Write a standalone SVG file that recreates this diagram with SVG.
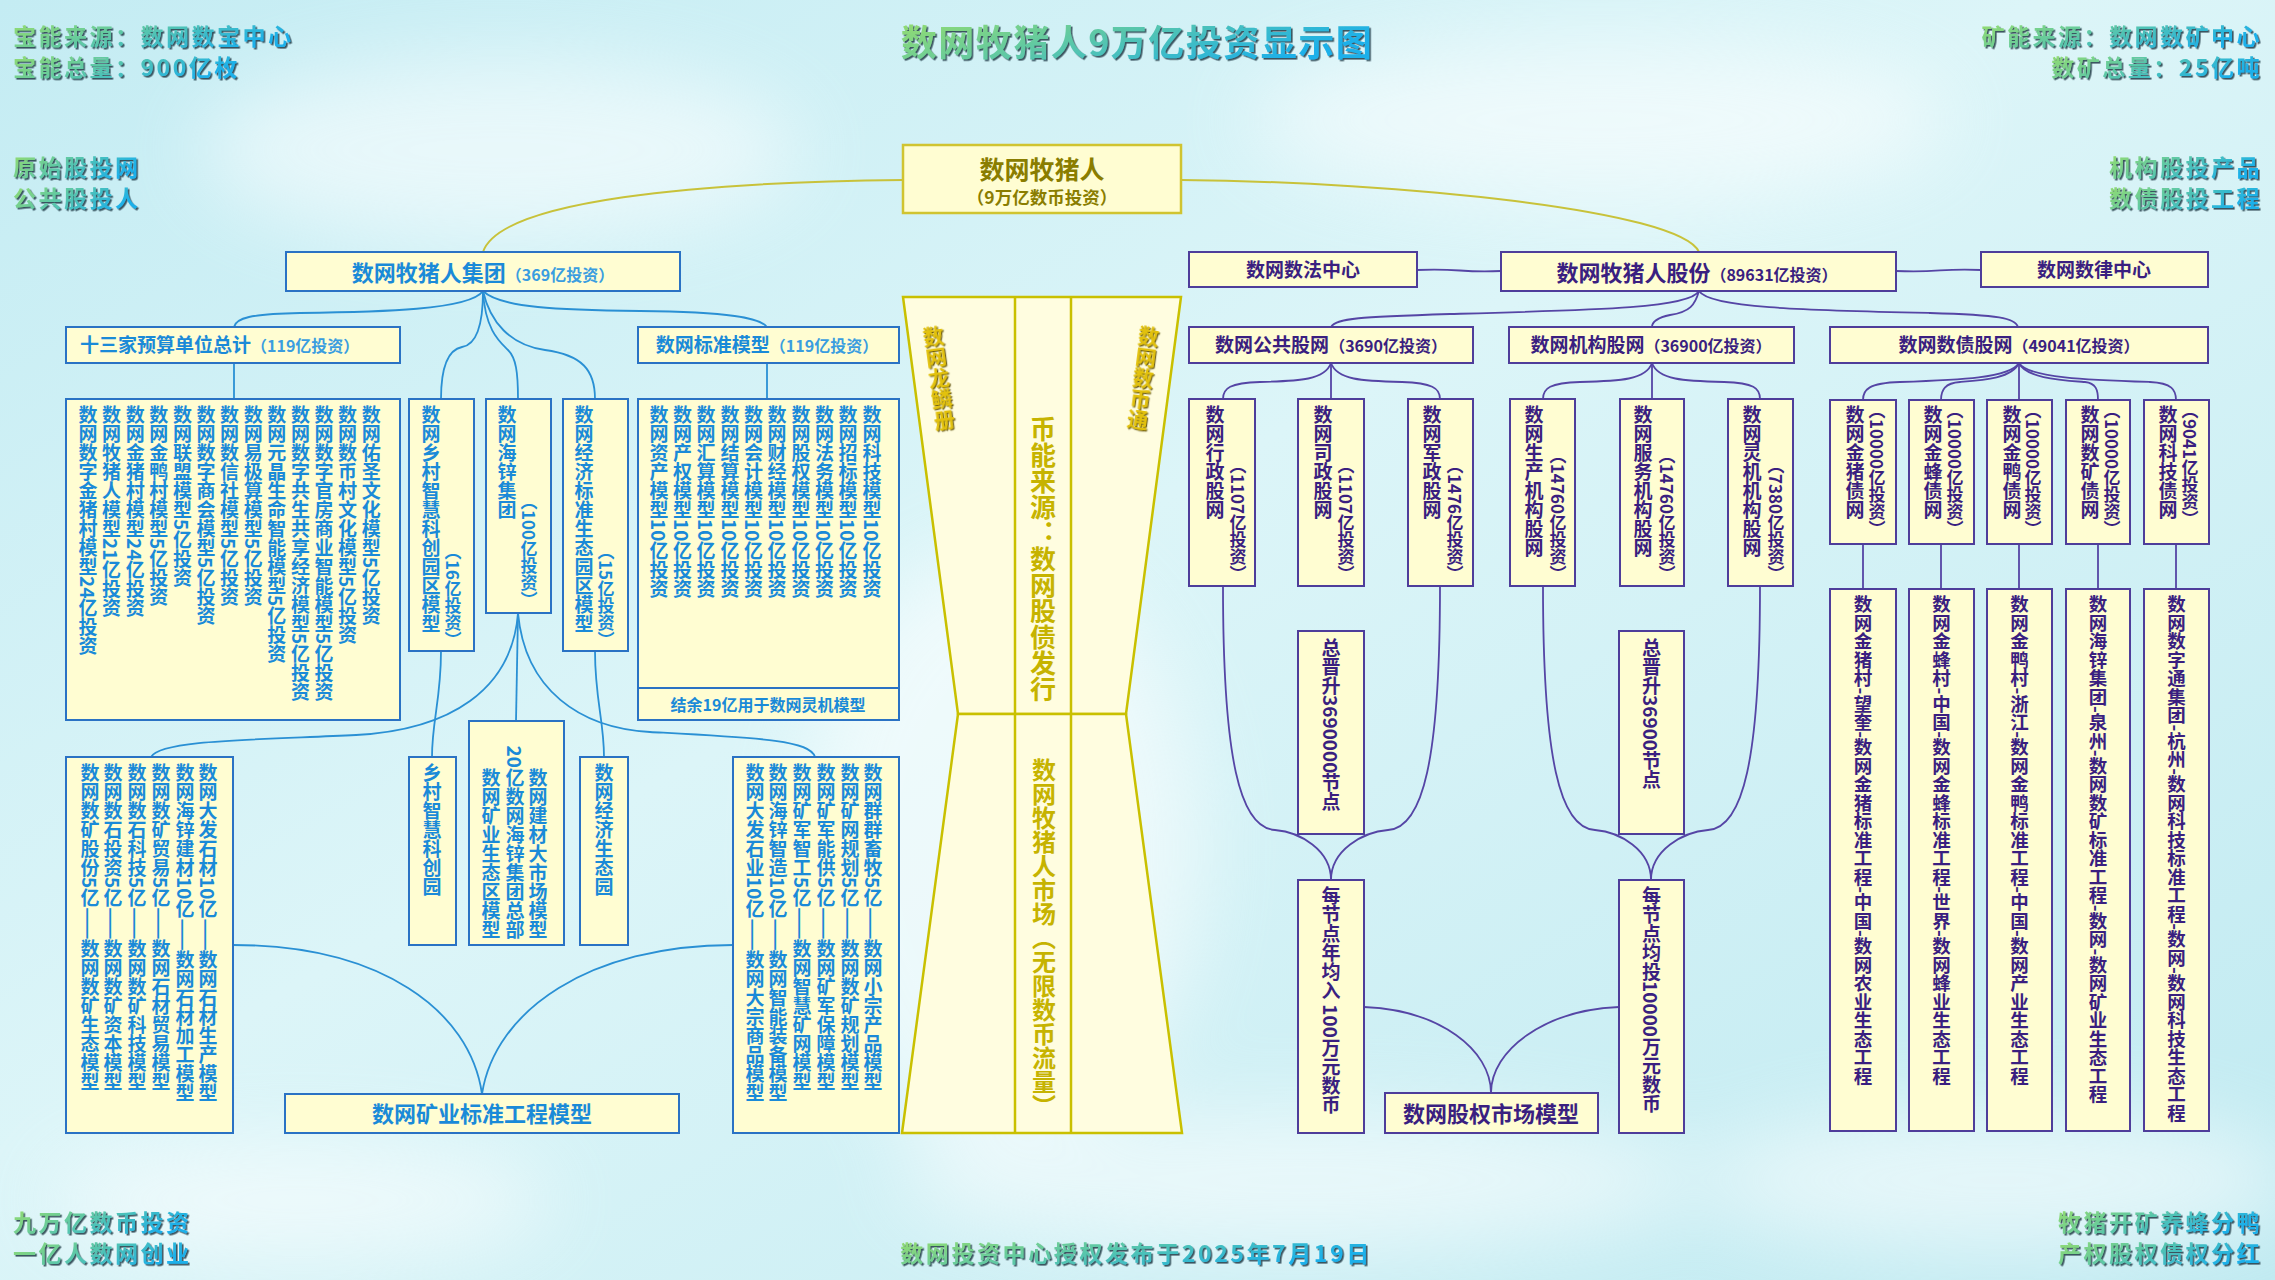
<svg xmlns="http://www.w3.org/2000/svg" width="2275" height="1280" viewBox="0 0 2275 1280">
<defs>
<linearGradient id="bg" x1="0" y1="0" x2="1" y2="1">
<stop offset="0" stop-color="#c4ecf3"/>
<stop offset="0.45" stop-color="#dcf5f8"/>
<stop offset="1" stop-color="#c0eaf1"/>
</linearGradient>
<linearGradient id="tg" x1="0" y1="0" x2="1" y2="0.4">
<stop offset="0" stop-color="#9ade68"/>
<stop offset="1" stop-color="#1cb0ea"/>
</linearGradient>
<filter id="sh" x="-5%" y="-30%" width="112%" height="170%">
<feDropShadow dx="1.6" dy="1.6" stdDeviation="0.6" flood-color="#1b3a44" flood-opacity="0.85"/>
</filter>
<filter id="gs" x="-20%" y="-10%" width="140%" height="120%">
<feDropShadow dx="1.2" dy="1.2" stdDeviation="0.5" flood-color="#5a4a00" flood-opacity="0.9"/>
</filter>
<filter id="blur" x="-50%" y="-50%" width="200%" height="200%"><feGaussianBlur stdDeviation="40"/></filter>
</defs>
<style>
text{font-family:'Noto Sans CJK SC','Noto Sans',sans-serif;font-weight:bold}
.v{writing-mode:vertical-rl}
.deco{fill:url(#tg);filter:url(#sh);font-size:23px;letter-spacing:2.5px}
.lb{fill:#fffdd2;stroke:#2a72c4;stroke-width:2}
.rb{fill:#fffdd2;stroke:#4e3d9a;stroke-width:2}
.bt{fill:#1a8ad8;font-size:19px}
.bs{fill:#3a9de0;font-size:16px}
.vs{fill:#1a8ad8;font-size:17px}
.pt{fill:#3a1f80;font-size:19px}
.ps{fill:#3a1f80;font-size:16px}
.pv{fill:#3a1f80;font-size:17px}
.cl{fill:none;stroke:#2a90d4;stroke-width:1.8}
.cr{fill:none;stroke:#5545a5;stroke-width:1.8}
.cy{fill:none;stroke:#c8c23a;stroke-width:2}
.fy{fill:#fffde0;stroke:#c9c000;stroke-width:2.5}
</style>

<rect width="2275" height="1280" fill="url(#bg)"/>
<g filter="url(#blur)" fill="#ffffff" opacity="0.55">
<ellipse cx="500" cy="150" rx="300" ry="90"/>
<ellipse cx="1600" cy="120" rx="350" ry="80"/>
<ellipse cx="1300" cy="1180" rx="400" ry="70"/>
<ellipse cx="300" cy="1200" rx="250" ry="60"/>
<ellipse cx="2000" cy="1180" rx="300" ry="70"/>
<ellipse cx="1000" cy="850" rx="200" ry="300"/>
</g>

<g id="corner-texts">
<text class="deco" x="13" y="45">宝能来源：数网数宝中心</text>
<text class="deco" x="13" y="76">宝能总量：900亿枚</text>
<text class="deco" x="13" y="176">原始股投网</text>
<text class="deco" x="13" y="207">公共股投人</text>
<text class="deco" x="13" y="1231">九万亿数币投资</text>
<text class="deco" x="13" y="1262">一亿人数网创业</text>
<text class="deco" x="2262" y="45" text-anchor="end">矿能来源：数网数矿中心</text>
<text class="deco" x="2262" y="76" text-anchor="end">数矿总量：25亿吨</text>
<text class="deco" x="2262" y="176" text-anchor="end">机构股投产品</text>
<text class="deco" x="2262" y="207" text-anchor="end">数债股投工程</text>
<text class="deco" x="2262" y="1231" text-anchor="end">牧猪开矿养蜂分鸭</text>
<text class="deco" x="2262" y="1262" text-anchor="end">产权股权债权分红</text>
<text class="deco" x="1136" y="1262" text-anchor="middle" style="letter-spacing:2.6px">数网投资中心授权发布于2025年7月19日</text>
<text class="deco" x="1137" y="56" text-anchor="middle" style="font-size:36px;letter-spacing:1.5px">数网牧猪人9万亿投资显示图</text>
</g>

<g id="connectors">
<path class="cy" d="M903,180 C700,182 500,200 483,252"/>
<path class="cy" d="M1181,180 C1400,182 1680,210 1699,252"/>
<path class="cl" d="M483,291 C470,310 380,312 300,313 C250,314 236,318 234,327"/>
<path class="cl" d="M483,291 C500,308 560,310 640,311 C730,312 760,318 767,327"/>
<path class="cl" d="M483,291 C483,330 475,345 462,347 C447,350 441,370 441,399"/>
<path class="cl" d="M483,291 C485,330 500,342 508,350 C516,358 518,372 518,399"/>
<path class="cl" d="M483,291 C490,322 510,345 545,350 C582,355 595,370 595,399"/>
<path class="cl" d="M234,363 L234,399"/>
<path class="cl" d="M767,363 L767,399"/>
<path class="cl" d="M441,651 C441,700 432,720 432,757"/>
<path class="cl" d="M518,613 L516,721"/>
<path class="cl" d="M595,651 C595,700 604,720 604,757"/>
<path class="cl" d="M518,613 C512,690 450,730 356,735 C250,740 160,740 151,757"/>
<path class="cl" d="M518,613 C525,690 580,728 650,732 C760,738 810,740 815,757"/>
<path class="cl" d="M233,945 C380,945 470,1010 482,1094"/>
<path class="cl" d="M733,945 C590,945 495,1010 482,1094"/>
<path class="cr" d="M1417,270 C1460,268 1460,273 1501,271"/>
<path class="cr" d="M1896,271 C1940,273 1940,268 1981,270"/>
<path class="cr" d="M1699,291 C1690,308 1600,310 1450,314 C1360,317 1336,318 1331,327"/>
<path class="cr" d="M1699,291 C1695,305 1690,312 1670,315 C1656,318 1652,322 1652,327"/>
<path class="cr" d="M1699,291 C1710,308 1800,310 1930,313 C2000,315 2015,318 2018,327"/>
<path class="cr" d="M1331,363 C1325,380 1300,381 1260,382 C1230,383 1223,388 1223,399"/>
<path class="cr" d="M1331,363 L1331,399"/>
<path class="cr" d="M1331,363 C1337,380 1362,381 1402,382 C1432,383 1440,388 1440,399"/>
<path class="cr" d="M1652,363 C1646,380 1620,381 1580,382 C1550,383 1543,388 1543,399"/>
<path class="cr" d="M1652,363 L1652,399"/>
<path class="cr" d="M1652,363 C1658,380 1684,381 1724,382 C1754,383 1760,388 1760,399"/>
<path class="cr" d="M2019,363 C2010,378 1960,380 1900,382 C1868,383 1863,390 1863,400"/>
<path class="cr" d="M2019,363 C2012,378 1985,380 1960,382 C1945,383 1941,390 1941,400"/>
<path class="cr" d="M2019,363 L2019,400"/>
<path class="cr" d="M2019,363 C2026,378 2060,380 2085,382 C2096,383 2098,390 2098,400"/>
<path class="cr" d="M2019,363 C2028,378 2090,380 2150,382 C2172,383 2176,390 2176,400"/>
<path class="cr" d="M1863,544 L1863,589"/>
<path class="cr" d="M1941,544 L1941,589"/>
<path class="cr" d="M2019,544 L2019,589"/>
<path class="cr" d="M2098,544 L2098,589"/>
<path class="cr" d="M2176,544 L2176,589"/>
<path class="cr" d="M1223,586 C1223,760 1240,828 1275,830 C1300,832 1331,850 1331,880"/>
<path class="cr" d="M1440,586 C1440,760 1423,828 1388,830 C1363,832 1331,850 1331,880"/>
<path class="cr" d="M1543,586 C1543,760 1560,828 1595,830 C1620,832 1651,850 1651,880"/>
<path class="cr" d="M1760,586 C1760,760 1743,828 1708,830 C1683,832 1651,850 1651,880"/>
<path class="cr" d="M1364,1007 C1440,1010 1491,1050 1491,1093"/>
<path class="cr" d="M1619,1007 C1545,1010 1491,1050 1491,1093"/>
</g>

<g id="funnel">
<polygon class="fy" points="903,297 1181,297 1126,714 958,714"/>
<polygon class="fy" points="958,714 1126,714 1182,1133 902,1133"/>
<line x1="1015" y1="297" x2="1015" y2="1133" stroke="#c9c000" stroke-width="2.5"/>
<line x1="1071" y1="297" x2="1071" y2="1133" stroke="#c9c000" stroke-width="2.5"/>
<text class="v" transform="translate(932,326) rotate(-7.5)" x="0" y="0" style="font-size:21px;fill:#e2c10c;filter:url(#gs)">数网龙鳞册</text>
<text class="v" transform="translate(1150,326) rotate(7.5)" x="0" y="0" style="font-size:21px;fill:#e2c10c;filter:url(#gs)">数网数币通</text>
<text class="v" x="1043" y="416" style="font-size:26px;fill:#c6b300">币能来源：数网股债发行</text>
<text class="v" x="1044" y="758" style="font-size:24px;fill:#c6b300">数网牧猪人市场（无限数币流量）</text>
</g>

<g id="node-root">
<rect x="903" y="145" width="278" height="68" fill="#fffdd2" stroke="#d0c430" stroke-width="2.5"/>
<text x="1042" y="179" text-anchor="middle" style="font-size:25px;fill:#8a7d00">数网牧猪人</text>
<text x="1042" y="204" text-anchor="middle" style="font-size:17.5px;fill:#8a7d00">（9万亿数币投资）</text>
</g>

<g id="node-group">
<rect class="lb" x="286" y="252" width="394" height="39"/>
<text x="483" y="281" text-anchor="middle" style="font-size:22px;fill:#1a8ad8">数网牧猪人集团<tspan class="bs">（369亿投资）</tspan></text>
</g>

<g id="node-13">
<rect class="lb" x="66" y="327" width="334" height="36"/>
<text class="bt" x="80" y="352">十三家预算单位总计<tspan class="bs">（119亿投资）</tspan></text>
</g>
<g id="node-13-list">
<rect class="lb" x="66" y="399" width="334" height="321"/>
<text class="v bt" x="88" y="405">数网数字金猪村模型24亿投资</text>
<text class="v bt" x="111.6" y="405">数网牧猪人模型21亿投资</text>
<text class="v bt" x="135.2" y="405">数网金猪村模型24亿投资</text>
<text class="v bt" x="158.8" y="405">数网金鸭村模型5亿投资</text>
<text class="v bt" x="182.4" y="405">数网联盟模型5亿投资</text>
<text class="v bt" x="206" y="405">数网数字商会模型5亿投资</text>
<text class="v bt" x="229.6" y="405">数网数信社模型5亿投资</text>
<text class="v bt" x="253.2" y="405">数网易极算模型5亿投资</text>
<text class="v bt" x="276.8" y="405">数网元晶生命智能模型5亿投资</text>
<text class="v bt" x="300.4" y="405">数网数字共生共享经济模型5亿投资</text>
<text class="v bt" x="324" y="405">数网数字官房商业智能模型5亿投资</text>
<text class="v bt" x="347.6" y="405">数网数币村文化模型5亿投资</text>
<text class="v bt" x="371.2" y="405">数网佑圣文化模型5亿投资</text>
</g>

<g id="node-village">
<rect class="lb" x="409" y="399" width="65" height="252"/>
<text class="v bt" x="431" y="405">数网乡村智慧科创园区模型</text>
<text class="v vs" x="453" y="648" text-anchor="end">（16亿投资）</text>
</g>
<g id="node-haixin">
<rect class="lb" x="486" y="399" width="65" height="214"/>
<text class="v bt" x="507" y="405">数网海锌集团</text>
<text class="v vs" x="529" y="608" text-anchor="end">（100亿投资）</text>
</g>
<g id="node-economy">
<rect class="lb" x="563" y="399" width="65" height="252"/>
<text class="v bt" x="584" y="405">数网经济标准生态园区模型</text>
<text class="v vs" x="606" y="648" text-anchor="end">（15亿投资）</text>
</g>

<g id="node-std">
<rect class="lb" x="638" y="327" width="261" height="36"/>
<text class="bt" x="767" y="352" text-anchor="middle">数网标准模型<tspan class="bs">（119亿投资）</tspan></text>
</g>
<g id="node-std-list">
<rect class="lb" x="638" y="399" width="261" height="321"/>
<line x1="638" y1="688" x2="899" y2="688" stroke="#2a72c4" stroke-width="2"/>
<text class="v bt" x="659" y="405">数网资产模型10亿投资</text>
<text class="v bt" x="682.5" y="405">数网产权模型10亿投资</text>
<text class="v bt" x="706" y="405">数网汇算模型10亿投资</text>
<text class="v bt" x="730" y="405">数网结算模型10亿投资</text>
<text class="v bt" x="753.5" y="405">数网会计模型10亿投资</text>
<text class="v bt" x="777" y="405">数网财经模型10亿投资</text>
<text class="v bt" x="801" y="405">数网股权模型10亿投资</text>
<text class="v bt" x="824.5" y="405">数网法务模型10亿投资</text>
<text class="v bt" x="848" y="405">数网招标模型10亿投资</text>
<text class="v bt" x="872" y="405">数网科技模型10亿投资</text>
<text x="768" y="711" text-anchor="middle" style="font-size:16px;fill:#1a8ad8">结余19亿用于数网灵机模型</text>
</g>

<g id="node-village-park">
<rect class="lb" x="409" y="757" width="47" height="188"/>
<text class="v bt" x="432" y="763">乡村智慧科创园</text>
</g>
<g id="node-haixin-hq">
<rect class="lb" x="469" y="721" width="95" height="224"/>
<text class="v bt" x="491" y="939" text-anchor="end">数网矿业生态区模型</text>
<text class="v bt" x="515" y="939" text-anchor="end">20亿数网海锌集团总部</text>
<text class="v bt" x="538" y="939" text-anchor="end">数网建材大市场模型</text>
</g>
<g id="node-eco-park">
<rect class="lb" x="580" y="757" width="48" height="188"/>
<text class="v bt" x="604" y="763">数网经济生态园</text>
</g>

<g id="node-stone">
<rect class="lb" x="66" y="757" width="167" height="376"/>
<text class="v bt" x="90" y="763">数网数矿股份5亿——数网数矿生态模型</text>
<text class="v bt" x="113" y="763">数网数石投资5亿——数网数矿资本模型</text>
<text class="v bt" x="137" y="763">数网数石科技5亿——数网数矿科技模型</text>
<text class="v bt" x="161" y="763">数网数矿贸易5亿——数网石材贸易模型</text>
<text class="v bt" x="185" y="763">数网海锌建材10亿——数网石材加工模型</text>
<text class="v bt" x="208" y="763">数网大发石材10亿——数网石材生产模型</text>
</g>
<g id="node-mine-list">
<rect class="lb" x="733" y="757" width="166" height="376"/>
<text class="v bt" x="755" y="763">数网大发石业10亿——数网大宗商品模型</text>
<text class="v bt" x="778" y="763">数网海锌智造10亿——数网智能装备模型</text>
<text class="v bt" x="802" y="763">数网矿军智工5亿——数网智慧矿网模型</text>
<text class="v bt" x="826" y="763">数网矿军能供5亿——数网矿军保障模型</text>
<text class="v bt" x="850" y="763">数网矿网规划5亿——数网数矿规划模型</text>
<text class="v bt" x="873" y="763">数网群群畜牧5亿——数网小宗产品模型</text>
</g>
<g id="node-mining-std">
<rect class="lb" x="285" y="1094" width="394" height="39"/>
<text x="482" y="1122" text-anchor="middle" style="font-size:22px;fill:#1a8ad8">数网矿业标准工程模型</text>
</g>

<g id="node-law">
<rect class="rb" x="1189" y="252" width="228" height="35"/>
<text class="pt" x="1303" y="277" text-anchor="middle">数网数法中心</text>
</g>
<g id="node-shares">
<rect class="rb" x="1501" y="252" width="395" height="39"/>
<text x="1697" y="281" text-anchor="middle" style="font-size:22px;fill:#3a1f80">数网牧猪人股份<tspan class="ps">（89631亿投资）</tspan></text>
</g>
<g id="node-rule">
<rect class="rb" x="1981" y="252" width="227" height="35"/>
<text class="pt" x="2094" y="277" text-anchor="middle">数网数律中心</text>
</g>

<g id="node-public">
<rect class="rb" x="1189" y="327" width="284" height="36"/>
<text class="pt" x="1331" y="352" text-anchor="middle">数网公共股网<tspan class="ps">（3690亿投资）</tspan></text>
</g>
<g id="node-inst">
<rect class="rb" x="1509" y="327" width="285" height="36"/>
<text class="pt" x="1651" y="352" text-anchor="middle">数网机构股网<tspan class="ps">（36900亿投资）</tspan></text>
</g>
<g id="node-debt">
<rect class="rb" x="1830" y="327" width="378" height="36"/>
<text class="pt" x="2019" y="352" text-anchor="middle">数网数债股网<tspan class="ps">（49041亿投资）</tspan></text>
</g>

<g id="node-admin">
<rect class="rb" x="1189" y="399" width="66" height="187"/>
<text class="v pt" x="1215" y="405">数网行政股网</text>
<text class="v pv" x="1238" y="582" text-anchor="end">（1107亿投资）</text>
</g>
<g id="node-judicial">
<rect class="rb" x="1298" y="399" width="66" height="187"/>
<text class="v pt" x="1323" y="405">数网司政股网</text>
<text class="v pv" x="1346" y="582" text-anchor="end">（1107亿投资）</text>
</g>
<g id="node-military">
<rect class="rb" x="1408" y="399" width="65" height="187"/>
<text class="v pt" x="1432" y="405">数网军政股网</text>
<text class="v pv" x="1455" y="582" text-anchor="end">（1476亿投资）</text>
</g>
<g id="node-production">
<rect class="rb" x="1510" y="399" width="65" height="187"/>
<text class="v pt" x="1534" y="405">数网生产机构股网</text>
<text class="v pv" x="1558" y="582" text-anchor="end">（14760亿投资）</text>
</g>
<g id="node-service">
<rect class="rb" x="1620" y="399" width="64" height="187"/>
<text class="v pt" x="1643" y="405">数网服务机构股网</text>
<text class="v pv" x="1667" y="582" text-anchor="end">（14760亿投资）</text>
</g>
<g id="node-lingji">
<rect class="rb" x="1728" y="399" width="65" height="187"/>
<text class="v pt" x="1752" y="405">数网灵机机构股网</text>
<text class="v pv" x="1776" y="582" text-anchor="end">（7380亿投资）</text>
</g>

<g id="node-promo1">
<rect class="rb" x="1298" y="631" width="66" height="203"/>
<text class="v pt" x="1331" y="638">总晋升3690000节点</text>
</g>
<g id="node-promo2">
<rect class="rb" x="1619" y="631" width="65" height="203"/>
<text class="v pt" x="1651.5" y="638">总晋升36900节点</text>
</g>
<g id="node-income">
<rect class="rb" x="1298" y="880" width="66" height="253"/>
<text class="v pt" x="1331" y="886">每节点年均入 100万元数币</text>
</g>
<g id="node-invest">
<rect class="rb" x="1619" y="880" width="65" height="253"/>
<text class="v pt" x="1651.5" y="886">每节点均投10000万元数币</text>
</g>
<g id="node-equity-market">
<rect class="rb" x="1385" y="1093" width="213" height="40"/>
<text x="1491" y="1122" text-anchor="middle" style="font-size:22px;fill:#3a1f80">数网股权市场模型</text>
</g>

<g id="node-debt-pig">
<rect class="rb" x="1830" y="400" width="66" height="144"/>
<text class="v pt" x="1855" y="405">数网金猪债网</text>
<text class="v pv" x="1877" y="402">（10000亿投资）</text>
</g>
<g id="node-debt-bee">
<rect class="rb" x="1909" y="400" width="65" height="144"/>
<text class="v pt" x="1933" y="405">数网金蜂债网</text>
<text class="v pv" x="1955" y="402">（10000亿投资）</text>
</g>
<g id="node-debt-duck">
<rect class="rb" x="1987" y="400" width="65" height="144"/>
<text class="v pt" x="2012" y="405">数网金鸭债网</text>
<text class="v pv" x="2033" y="402">（10000亿投资）</text>
</g>
<g id="node-debt-mine">
<rect class="rb" x="2066" y="400" width="64" height="144"/>
<text class="v pt" x="2090" y="405">数网数矿债网</text>
<text class="v pv" x="2112" y="402">（10000亿投资）</text>
</g>
<g id="node-debt-tech">
<rect class="rb" x="2144" y="400" width="65" height="144"/>
<text class="v pt" x="2168" y="405">数网科技债网</text>
<text class="v pv" x="2190" y="402">（9041亿投资）</text>
</g>

<g id="node-eng-pig">
<rect class="rb" x="1830" y="589" width="66" height="542"/>
<text class="v pt" x="1863" y="595" style="font-size:18.5px">数网金猪村-望奎-数网金猪标准工程-中国-数网农业生态工程</text>
</g>
<g id="node-eng-bee">
<rect class="rb" x="1909" y="589" width="65" height="542"/>
<text class="v pt" x="1941.5" y="595" style="font-size:18.5px">数网金蜂村-中国-数网金蜂标准工程-世界-数网蜂业生态工程</text>
</g>
<g id="node-eng-duck">
<rect class="rb" x="1987" y="589" width="65" height="542"/>
<text class="v pt" x="2019.5" y="595" style="font-size:18.5px">数网金鸭村-浙江-数网金鸭标准工程-中国-数网产业生态工程</text>
</g>
<g id="node-eng-mine">
<rect class="rb" x="2066" y="589" width="64" height="542"/>
<text class="v pt" x="2098" y="595" style="font-size:18.5px">数网海锌集团-泉州-数网数矿标准工程-数网-数网矿业生态工程</text>
</g>
<g id="node-eng-tech">
<rect class="rb" x="2144" y="589" width="65" height="542"/>
<text class="v pt" x="2176.5" y="595" style="font-size:18.5px">数网数字通集团-杭州-数网科技标准工程-数网-数网科技生态工程</text>
</g>
</svg>
